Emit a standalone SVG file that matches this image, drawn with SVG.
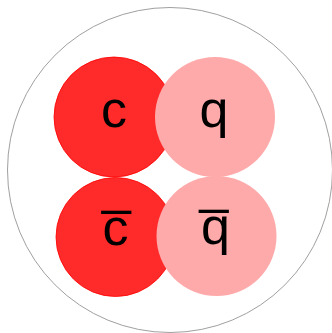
<svg xmlns="http://www.w3.org/2000/svg" width="332" height="333" viewBox="0 0 332 333">
<style>
.outer{fill:none;stroke:#a0a0a0;stroke-width:1}
.red{fill:#ff2a2a;stroke:#ff0000;stroke-width:0.8}
.pink{fill:#ffaaaa;stroke:none}
.lbl{font-family:"Liberation Sans",Arial,sans-serif;font-size:52px;fill:#000;text-anchor:middle}
.bar{stroke:#000;stroke-width:2.2}
</style>
<g id="hadron"><circle class="outer" cx="170" cy="170" r="162.5"/></g>
<g id="c"><circle class="red" cx="114" cy="117" r="60"/><text class="lbl" x="114" y="127">c</text></g>
<g id="cbar"><circle class="red" cx="115.5" cy="237" r="59.5"/><text class="lbl" x="115.5" y="245">c̅</text></g>
<g id="q"><circle class="pink" cx="215" cy="117" r="60"/><text class="lbl" x="214" y="127">q</text></g>
<g id="qbar"><circle class="pink" cx="216.5" cy="236" r="60"/><text class="lbl" x="215.5" y="244">q̅</text></g>
</svg>
